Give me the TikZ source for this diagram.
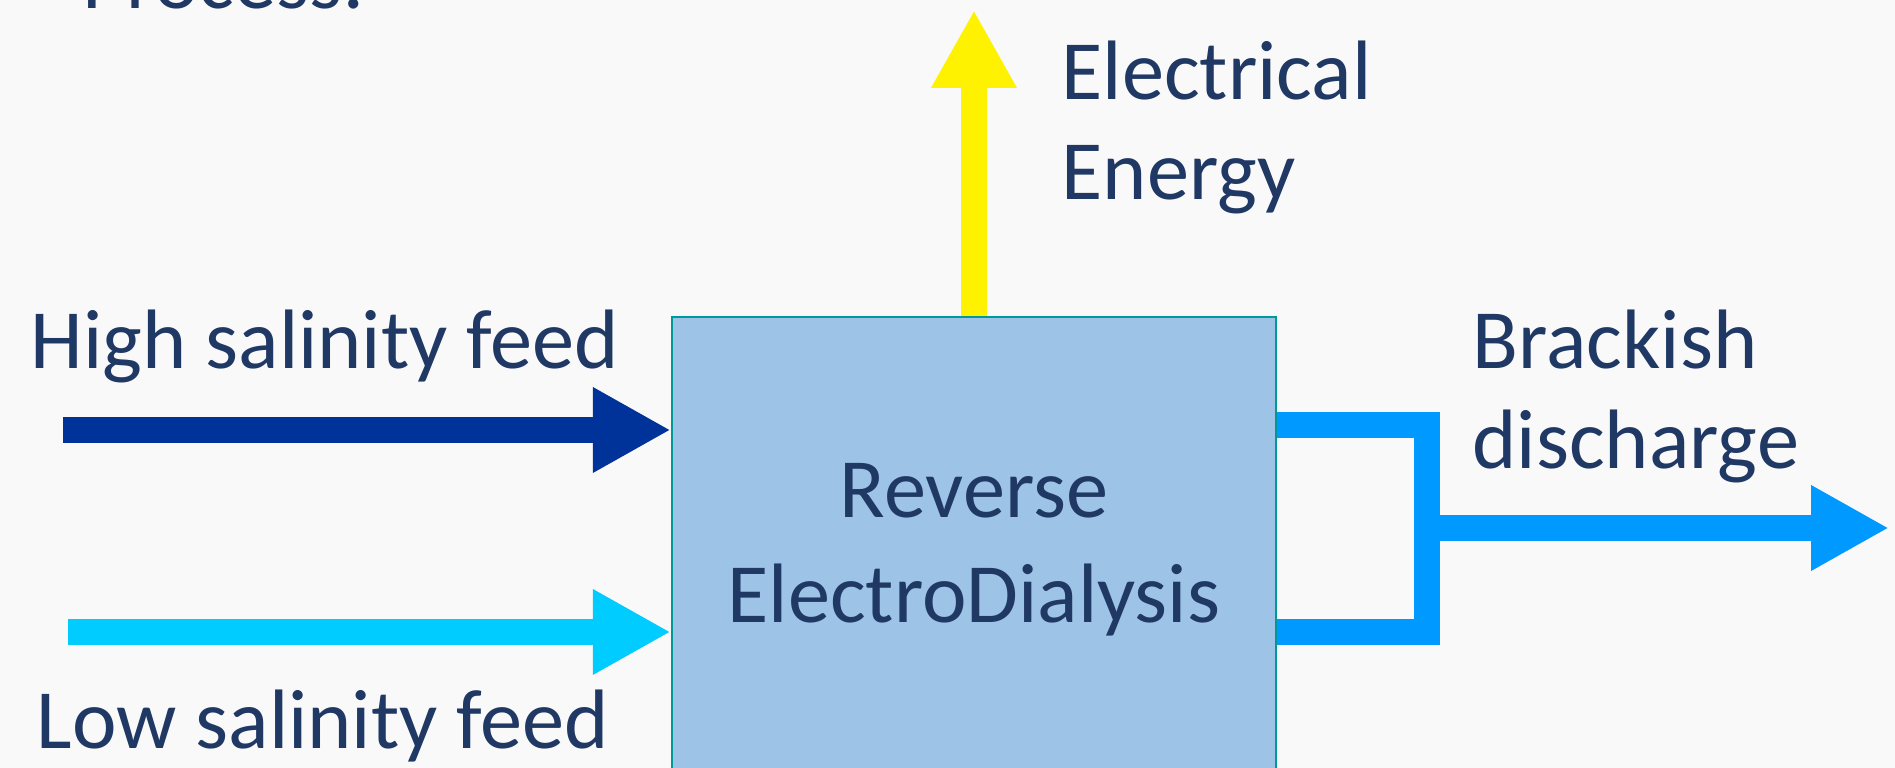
\documentclass[tikz,border=0pt]{standalone}
\usepackage{fontspec}
\setmainfont{Carlito}
\usetikzlibrary{arrows.meta, positioning, calc}

\definecolor{slidebg}{HTML}{F9F9F9}
\definecolor{navytext}{HTML}{203864}
\definecolor{highblue}{HTML}{003399}
\definecolor{lowblue}{HTML}{00CCFF}
\definecolor{brackblue}{HTML}{0099FF}
\definecolor{boxfill}{HTML}{9DC3E6}
\definecolor{boxedge}{HTML}{009999}

\begin{document}
\begin{tikzpicture}[
		font=\fontsize{24}{28.5}\selectfont,
		% Style for the process block
		redblock/.style={
			draw=boxedge, line width=0.7pt, fill=boxfill,
			minimum width=6.04cm, minimum height=4.52cm,
			align=center, text=navytext, inner sep=0pt,
			font=\fontsize{24}{30}\selectfont, text depth=0pt
		},
		% Style for the thick flow arrows
		flow/.style={
			line width=0.266cm,
			-{Triangle[length=0.78cm, width=0.8cm]}
		},
		pipe/.style={line width=0.266cm, line join=miter, color=brackblue},
		labeltext/.style={text=navytext, inner sep=0pt, anchor=base west, align=left}
		]
		
		% --- BACKGROUND ---
		\fill[slidebg] (0,0) rectangle (18.95,7.68);
		\useasboundingbox (0,0) rectangle (18.95,7.68);
		\clip (0,0) rectangle (18.95,7.68);
		
		% --- 1. TITLE (cut off) ---
		\node[labeltext] (proc) at (0.82,7.59) {Process:};
		
		% --- 2. RED STACK ---
		\node[redblock] (red) at (9.74,2.25) {Reverse\\ElectroDialysis};
		
		% --- 3. FEEDS ---
		\node[labeltext] (hslabel) at (0.30,3.99) {High salinity feed};
		\node[labeltext] (lslabel) at (0.36,0.19) {Low salinity feed};
		\coordinate (hsin) at (0.63,3.38);
		\coordinate (lsin) at (0.68,1.36);
		
		% --- 4. ENERGY OUTPUT ---
		\coordinate (elout) at (9.74,7.58);
		\node[labeltext] (ellabel) at (10.61,5.68) {Electrical\\Energy};
		
		% --- 5. BRACKISH DISCHARGE ---
		\coordinate (topjoin) at (14.27,3.43);
		\coordinate (botjoin) at (14.27,1.36);
		\coordinate (brout) at (18.89,2.40);
		\node[labeltext] (brlabel) at (14.72,2.99) {Brackish\\discharge};
		
		% --- ARROWS & FLOW ---
		\draw[flow, highblue] (hsin) -- (hsin -| red.west);
		\draw[flow, lowblue] (lsin) -- (lsin -| red.west);
		\draw[flow, yellow] (red.north) -- (elout);
		\draw[pipe] (topjoin -| red.east) -- (topjoin) -- (botjoin) -- (botjoin -| red.east);
		\draw[flow, brackblue] (brout -| topjoin) -- (brout);
		
	\end{tikzpicture}
\end{document}
